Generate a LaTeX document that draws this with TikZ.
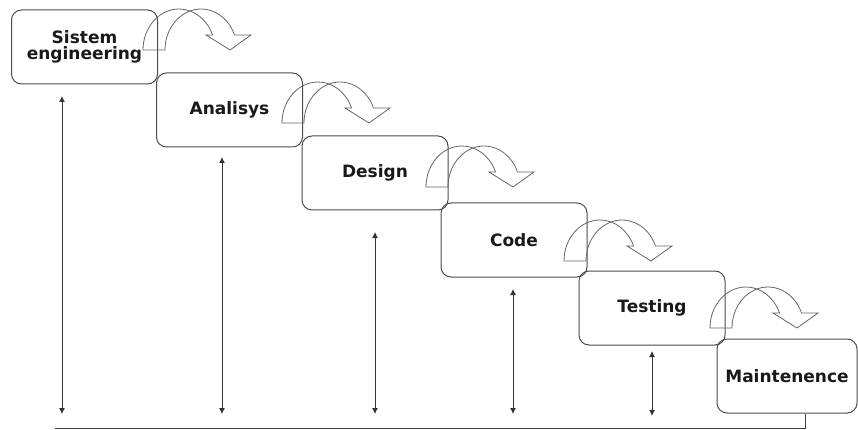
\documentclass[tikz,border=0pt]{standalone}
\usepackage{fontspec}
\setmainfont{DejaVu Sans}
\usetikzlibrary{arrows.meta}

\begin{document}
\begin{tikzpicture}[x=1pt,y=1pt]
			\tikzstyle{stage} = [draw=black!70, line width=1pt, rounded corners=10pt, minimum width=146pt, minimum height=74pt, inner sep=0pt, align=center, text=black!90, font=\bfseries\fontsize{17}{16}\selectfont]
			\tikzstyle{turn} = [draw=black!60, line width=0.8pt]
			\tikzset{edge/.style = {black!80, line width=0.9pt, {Latex[length=6pt,width=6pt]}-{Latex[length=6pt,width=6pt]}}}
			
			\useasboundingbox (0,0) rectangle (858,-430);
			
			\node[stage](sistem) at (84.5,-47) {Sistem\\engineering};
			\node[stage](analisys) at (229.5,-110) {Analisys};
			\node[stage](design) at (375,-173) {Design};
			\node[stage](code) at (514,-240) {Code};
			\node[stage](testing) at (652,-308) {Testing};
			\node[stage, minimum width=140pt](maintenence) at (787,-376) {Maintenence};
			
			\draw[turn, shift={(143,-50)}] (0,0) arc[start angle=180, end angle=21.5, x radius=36, y radius=41] -- (63,15) -- (87,0) -- (108,15) -- (91.5,15) arc[start angle=21.5, end angle=180, x radius=36, y radius=41] -- cycle;
			\draw[turn, shift={(282,-123)}] (0,0) arc[start angle=180, end angle=21.5, x radius=36, y radius=41] -- (63,15) -- (87,0) -- (108,15) -- (91.5,15) arc[start angle=21.5, end angle=180, x radius=36, y radius=41] -- cycle;
			\draw[turn, shift={(426,-187)}] (0,0) arc[start angle=180, end angle=21.5, x radius=36, y radius=41] -- (63,15) -- (87,0) -- (108,15) -- (91.5,15) arc[start angle=21.5, end angle=180, x radius=36, y radius=41] -- cycle;
			\draw[turn, shift={(564,-261)}] (0,0) arc[start angle=180, end angle=21.5, x radius=36, y radius=41] -- (63,15) -- (87,0) -- (108,15) -- (91.5,15) arc[start angle=21.5, end angle=180, x radius=36, y radius=41] -- cycle;
			\draw[turn, shift={(710,-328)}] (0,0) arc[start angle=180, end angle=21.5, x radius=36, y radius=41] -- (63,15) -- (87,0) -- (108,15) -- (91.5,15) arc[start angle=21.5, end angle=180, x radius=36, y radius=41] -- cycle;
			
			\coordinate (top1) at (62,-96);
			\coordinate (bottom1) at (62,-414);
			\coordinate (top2) at (222,-157);
			\coordinate (bottom2) at (222,-414);
			\coordinate (top3) at (375,-232);
			\coordinate (bottom3) at (375,-414);
			\coordinate (top4) at (513,-289);
			\coordinate (bottom4) at (513,-414);
			\coordinate (top5) at (652,-351);
			\coordinate (bottom5) at (652,-416);
			\draw[edge](top1) to (bottom1);
			\draw[edge](top2) to (bottom2);
			\draw[edge](top3) to (bottom3);
			\draw[edge](top4) to (bottom4);
			\draw[edge](top5) to (bottom5);
			
			\coordinate (base) at (55,-428);
			\draw[black!75, line width=0.9pt](base) -| ([xshift=18pt]maintenence.south);
			
\end{tikzpicture}
\end{document}
